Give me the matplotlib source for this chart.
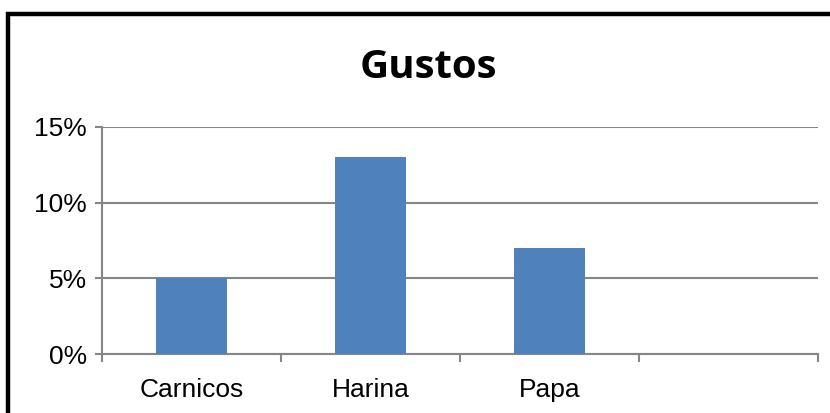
## Gustos chart ##
import matplotlib
matplotlib.use('Agg')
import matplotlib.pyplot as plt
from matplotlib.patches import Rectangle
from matplotlib.ticker import FixedLocator, FuncFormatter

# Data #
categories = ['Carnicos', 'Harina', 'Papa', '']
values = [0.05, 0.13, 0.07, 0.0]
yticks = [0.0, 0.05, 0.10, 0.15]

bar_color = '#4F81BD'
grid_color = '#868686'

fig = plt.figure(figsize=(8.3, 4.13), dpi=100)
fig.patch.set_facecolor('white')

# chart border (cropped on the right and bottom)
fig.patches.append(Rectangle((8 / 830, -0.2), 1.2, 1 - 14 / 413 + 0.2,
                             transform=fig.transFigure, fill=False,
                             edgecolor='black', linewidth=3.2, zorder=10))

ax = fig.add_axes([102 / 830, 1 - 354 / 413, 716 / 830, 227 / 413])
pos = list(range(len(categories)))
ax.bar(pos[:3], values[:3], width=0.4, color=bar_color, zorder=3)

ax.set_xlim(-0.5, len(categories) - 0.5)
ax.set_ylim(0, 0.15)

# Axes styling #
for s in ['top', 'right']:
    ax.spines[s].set_visible(False)
for s in ['left', 'bottom']:
    ax.spines[s].set_color(grid_color)
    ax.spines[s].set_linewidth(1.5)

ax.set_yticks(yticks)
ax.yaxis.set_major_formatter(FuncFormatter(lambda v, p: '%d%%' % round(v * 100)))
ax.yaxis.grid(True, color=grid_color, linewidth=1.5, zorder=0)
ax.tick_params(axis='y', length=5, width=1.5, color=grid_color,
               labelsize=19, pad=6)

ax.xaxis.set_major_locator(FixedLocator([i - 0.5 for i in range(len(categories) + 1)]))
ax.xaxis.set_major_formatter(FuncFormatter(lambda v, p: ''))
ax.xaxis.set_minor_locator(FixedLocator(pos))
ax.set_xticklabels(categories, minor=True)
ax.tick_params(axis='x', which='major', length=6, width=1.5, color=grid_color)
ax.tick_params(axis='x', which='minor', length=0, labelsize=19, pad=17)

for lab in ax.get_xticklabels(minor=True) + ax.get_yticklabels():
    lab.set_fontfamily('Liberation Sans')

fig.text(428 / 830, 1 - 67 / 413, 'Gustos', ha='center', va='center',
         fontsize=29, fontweight='bold', family='Open Sans')

plt.savefig('out.png', dpi=100)
